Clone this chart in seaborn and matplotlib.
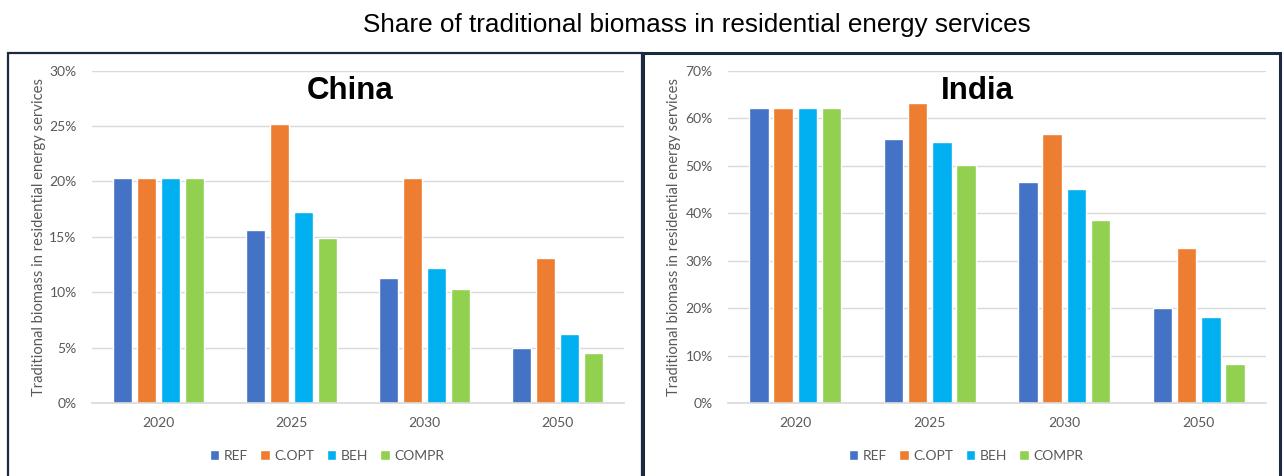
import numpy as np
import matplotlib
matplotlib.use("Agg")
import matplotlib.pyplot as plt
from matplotlib.patches import Rectangle, Patch
import pandas as pd
import seaborn as sns

years = ["2020", "2025", "2030", "2050"]
scenarios = ["REF", "C.OPT", "BEH", "COMPR"]
colors = ["#4472C4", "#ED7D31", "#00B0F0", "#92D050"]

china_ref = [20.3, 15.6, 11.3, 5.0]
china_copt = [20.3, 25.2, 20.3, 13.1]
china_beh = [20.3, 17.2, 12.2, 6.2]
china_compr = [20.3, 14.9, 10.25, 4.5]

india_ref = [62.2, 55.7, 46.5, 20.1]
india_copt = [62.2, 63.3, 56.6, 32.7]
india_beh = [62.2, 54.9, 45.0, 18.1]
india_compr = [62.2, 50.1, 38.6, 8.3]

ylabel = "Traditional biomass in residential energy services"
suptitle = "Share of traditional biomass in residential energy services"


def long_df(ref, copt, beh, compr):
    rows = []
    for name, vals in zip(scenarios, [ref, copt, beh, compr]):
        for y, v in zip(years, vals):
            rows.append({"year": y, "scenario": name, "value": v / 100})
    return pd.DataFrame(rows)


china = long_df(china_ref, china_copt, china_beh, china_compr)
india = long_df(india_ref, india_copt, india_beh, india_compr)

sns.set_style("white")
plt.rcParams["font.family"] = ["Lato", "DejaVu Sans"]

W, H = 1284, 476
fig = plt.figure(figsize=(W / 100, H / 100), dpi=100)

# panel frames
border = "#1B2A41"
fig.patches.append(Rectangle((8 / W, -0.05), (642 - 8) / W, 1 - 53 / H + 0.05,
                             transform=fig.transFigure, fill=False,
                             edgecolor=border, lw=1.6, zorder=0))
fig.patches.append(Rectangle((643 / W, -0.05), (1280 - 643) / W, 1 - 53 / H + 0.05,
                             transform=fig.transFigure, fill=False,
                             edgecolor=border, lw=2.2, zorder=0))

# df, title, axes x-range (px), ymax, step, title x, legend x, ylabel x
panels = [
    (china, "China", (92, 624), 0.30, 0.05, 350, 327, 46),
    (india, "India", (728, 1266), 0.70, 0.10, 977, 966, 681),
]

for df, name, (x0, x1), ymax, step, tx, lx, yx in panels:
    ax = fig.add_axes([x0 / W, 1 - 403 / H, (x1 - x0) / W, (403 - 70.7) / H])
    sns.barplot(data=df, x="year", y="value", hue="scenario", hue_order=scenarios,
                palette=colors, saturation=1, width=0.72, gap=0.2, ax=ax,
                legend=False, errorbar=None)
    ax.set_ylim(0, ymax)
    ax.set_yticks(np.arange(0, ymax + step / 2, step))
    ax.set_yticklabels([f"{int(round(t * 100))}%" for t in ax.get_yticks()])
    ax.yaxis.grid(True, color="#D9D9D9", lw=1)
    ax.set_axisbelow(True)
    for s in ["top", "right", "left"]:
        ax.spines[s].set_visible(False)
    ax.spines["bottom"].set_color("#D9D9D9")
    ax.spines["bottom"].set_linewidth(1.2)
    ax.tick_params(axis="both", length=0, labelsize=10, labelcolor="#595959")
    ax.tick_params(axis="y", pad=11)
    ax.tick_params(axis="x", pad=10)
    ax.set_xlabel("")
    ax.set_ylabel(ylabel, fontsize=10.6, color="#595959")
    ax.yaxis.set_label_coords((yx - x0) / (x1 - x0), 0.5)
    fig.text(tx / W, 1 - 99 / H, name, ha="center", va="baseline", color="black",
             fontsize=22.5, fontweight="bold", family="Liberation Sans")
    handles = [Patch(facecolor=c, label=s) for c, s in zip(colors, scenarios)]
    ax.legend(handles=handles, loc="center", bbox_to_anchor=(lx / W, 1 - 456 / H),
              bbox_transform=fig.transFigure, ncol=4, frameon=False,
              handlelength=0.7, handleheight=0.7, handletextpad=0.3,
              columnspacing=0.9, fontsize=10, labelcolor="#595959")

fig.text(697 / W, 1 - 32 / H, suptitle, ha="center", va="baseline", color="black",
         fontsize=18.8, family="Liberation Sans")

fig.savefig("out.png", dpi=100)
